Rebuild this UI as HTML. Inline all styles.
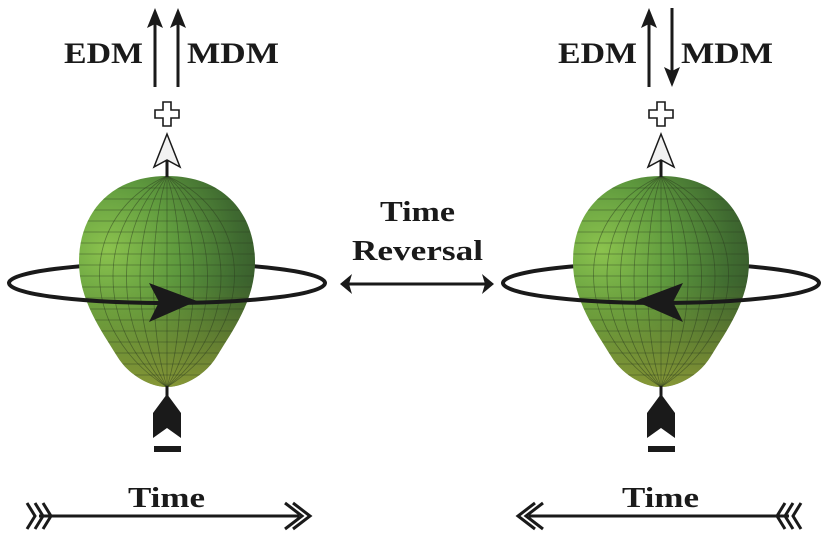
<!DOCTYPE html>
<html><head><meta charset="utf-8"><style>
html,body{margin:0;padding:0;background:#fff;}
svg{display:block;}
text{font-family:"Liberation Serif",serif;font-weight:bold;fill:#1a1a1a;}
</style></head><body>
<svg width="833" height="541" viewBox="0 0 833 541" xmlns="http://www.w3.org/2000/svg">
<defs>
<radialGradient id="g" cx="-60" cy="250" r="175" gradientUnits="userSpaceOnUse">
<stop offset="0" stop-color="#8cc34e"/><stop offset="0.4" stop-color="#5f9a3e"/><stop offset="0.75" stop-color="#3f6a30"/><stop offset="1" stop-color="#34502a"/>
</radialGradient>
<linearGradient id="g2" x1="0" y1="176" x2="0" y2="387" gradientUnits="userSpaceOnUse">
<stop offset="0.5" stop-color="#8a9a30" stop-opacity="0"/><stop offset="1" stop-color="#a0aa3a" stop-opacity="0.75"/>
</linearGradient>
<clipPath id="cp"><path d="M0,176 C58,176 88,215 88,262 C88,300 66,330 50,356 C38,376 16,387 0,387 C-16,387 -38,376 -50,356 C-66,330 -88,300 -88,262 C-88,215 -58,176 0,176Z"/></clipPath>
<g id="body">
<path d="M0,176 C58,176 88,215 88,262 C88,300 66,330 50,356 C38,376 16,387 0,387 C-16,387 -38,376 -50,356 C-66,330 -88,300 -88,262 C-88,215 -58,176 0,176Z" fill="url(#g)"/>
<path d="M0,176 C58,176 88,215 88,262 C88,300 66,330 50,356 C38,376 16,387 0,387 C-16,387 -38,376 -50,356 C-66,330 -88,300 -88,262 C-88,215 -58,176 0,176Z" fill="url(#g2)"/>
<g clip-path="url(#cp)" stroke="#2a3a1e" stroke-opacity="0.5" stroke-width="0.8" fill="none">
<path d="M-90,188H90M-90,199H90M-90,210H90M-90,221H90M-90,232H90M-90,243H90M-90,254H90M-90,265H90M-90,276H90M-90,287H90M-90,298H90M-90,309H90M-90,320H90M-90,331H90M-90,342H90M-90,353H90M-90,364H90M-90,375H90"/>
<path d="M0,176V387"/>
<path d="M0,176 C18,230 18,330 0,387 M0,176 C-18,230 -18,330 0,387"/>
<path d="M0,176 C36,225 36,330 0,387 M0,176 C-36,225 -36,330 0,387"/>
<path d="M0,176 C54,222 54,330 0,387 M0,176 C-54,222 -54,330 0,387"/>
<path d="M0,176 C72,220 72,330 0,387 M0,176 C-72,220 -72,330 0,387"/>
<path d="M0,176 C90,215 90,330 0,387 M0,176 C-90,215 -90,330 0,387"/>
</g>
<line x1="0" y1="160" x2="0" y2="177" stroke="#1a1a1a" stroke-width="3"/>
<path d="M0,134 L13,167 L0,160 L-13,167Z" fill="#f2f2f2" stroke="#1a1a1a" stroke-width="1.5"/>
<path d="M-4,102 H4 V110 H12 V118 H4 V126 H-4 V118 H-12 V110 H-4Z" fill="#fff" stroke="#1a1a1a" stroke-width="1.6"/>
<line x1="0" y1="386" x2="0" y2="396" stroke="#1a1a1a" stroke-width="3"/>
<path d="M0,394 L14,413 L14,438 L0,428 L-14,438 L-14,413Z" fill="#1a1a1a"/>
<rect x="-13" y="446" width="27" height="6" fill="#1a1a1a"/>
</g>
</defs>

<!-- LEFT -->
<g transform="translate(167,0)">
<path d="M-158,283 A158,20 0 0 1 158,283" fill="none" stroke="#1a1a1a" stroke-width="4"/>
<use href="#body"/>
<path d="M-158,283 A158,20 0 0 0 158,283" fill="none" stroke="#1a1a1a" stroke-width="4"/>
<path d="M-18,283 L30,301 L-18,322 L-8,302Z" fill="#1a1a1a"/>
<line x1="-12" y1="87" x2="-12" y2="22" stroke="#1a1a1a" stroke-width="3"/>
<path d="M-12,8 L-4,28 L-12,24 L-20,28Z" fill="#1a1a1a"/>
<line x1="11" y1="87" x2="11" y2="22" stroke="#1a1a1a" stroke-width="3"/>
<path d="M11,8 L19,28 L11,24 L3,28Z" fill="#1a1a1a"/>
<text x="-103" y="63" font-size="30" textLength="79" lengthAdjust="spacingAndGlyphs">EDM</text>
<text x="20" y="63" font-size="30" textLength="92" lengthAdjust="spacingAndGlyphs">MDM</text>
<text x="-39" y="507" font-size="29" textLength="77" lengthAdjust="spacingAndGlyphs">Time</text>
<line x1="-128" y1="516" x2="132" y2="516" stroke="#1a1a1a" stroke-width="3"/>
<path d="M-132,503 L-124,516 L-132,529 M-124,503 L-116,516 L-124,529 M-140,503 L-132,516 L-140,529" fill="none" stroke="#1a1a1a" stroke-width="3"/>
<path d="M118,503 L135,516 L118,529 M126,503 L143,516 L126,529" fill="none" stroke="#1a1a1a" stroke-width="3"/>
</g>

<!-- CENTER -->
<text x="380" y="221" font-size="29" textLength="75" lengthAdjust="spacingAndGlyphs">Time</text>
<text x="352" y="260" font-size="29" textLength="131" lengthAdjust="spacingAndGlyphs">Reversal</text>
<line x1="344" y1="284" x2="490" y2="284" stroke="#1a1a1a" stroke-width="3"/>
<path d="M340,284 L352,274 L349,284 L352,294Z M494,284 L482,274 L485,284 L482,294Z" fill="#1a1a1a"/>

<!-- RIGHT -->
<g transform="translate(661,0)">
<path d="M-158,283 A158,20 0 0 1 158,283" fill="none" stroke="#1a1a1a" stroke-width="4"/>
<use href="#body"/>
<path d="M-158,283 A158,20 0 0 0 158,283" fill="none" stroke="#1a1a1a" stroke-width="4"/>
<path d="M22,283 L-26,301 L22,322 L12,302Z" fill="#1a1a1a"/>
<line x1="-12" y1="87" x2="-12" y2="22" stroke="#1a1a1a" stroke-width="3"/>
<path d="M-12,8 L-4,28 L-12,24 L-20,28Z" fill="#1a1a1a"/>
<line x1="11" y1="8" x2="11" y2="72" stroke="#1a1a1a" stroke-width="3"/>
<path d="M11,87 L19,67 L11,71 L3,67Z" fill="#1a1a1a"/>
<text x="-103" y="63" font-size="30" textLength="79" lengthAdjust="spacingAndGlyphs">EDM</text>
<text x="20" y="63" font-size="30" textLength="92" lengthAdjust="spacingAndGlyphs">MDM</text>
<text x="-39" y="507" font-size="29" textLength="77" lengthAdjust="spacingAndGlyphs">Time</text>
<line x1="-132" y1="516" x2="128" y2="516" stroke="#1a1a1a" stroke-width="3"/>
<path d="M132,503 L124,516 L132,529 M124,503 L116,516 L124,529 M140,503 L132,516 L140,529" fill="none" stroke="#1a1a1a" stroke-width="3"/>
<path d="M-118,503 L-135,516 L-118,529 M-126,503 L-143,516 L-126,529" fill="none" stroke="#1a1a1a" stroke-width="3"/>
</g>
</svg>
</body></html>
